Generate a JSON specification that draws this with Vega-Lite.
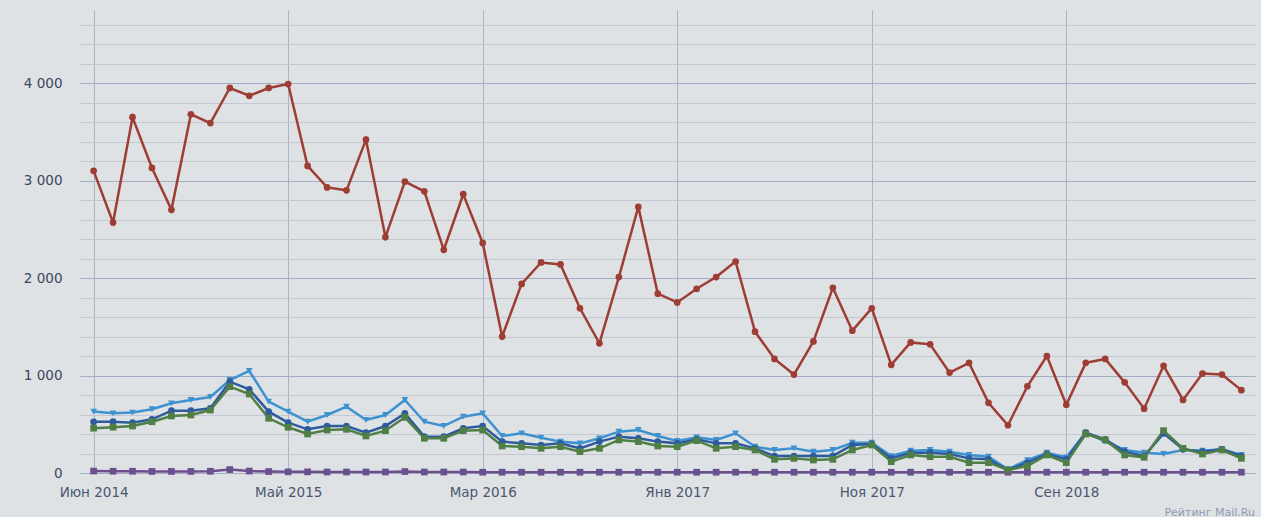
{
  "$schema": "https://vega.github.io/schema/vega-lite/v6.json",
  "width": 1175,
  "height": 463,
  "autosize": {"type": "none"},
  "padding": {"left": 80, "top": 10, "right": 6, "bottom": 44},
  "background": "#dfe2e4",
  "config": {"view": {"stroke": null}, "font": "DejaVu Sans"},
  "title": {"text": "Рейтинг Mail.Ru", "orient": "bottom", "anchor": "end", "fontSize": 11, "fontWeight": "normal", "color": "#8e9ab0", "offset": 8},
  "data": {"values": [
    {"m": "Июн 2014", "r": 3100, "lb": 630, "db": 525, "g": 460, "p": 20},
    {"m": "Июл 2014", "r": 2570, "lb": 612, "db": 526, "g": 470, "p": 18},
    {"m": "Авг 2014", "r": 3650, "lb": 620, "db": 516, "g": 482, "p": 18},
    {"m": "Сен 2014", "r": 3130, "lb": 654, "db": 551, "g": 526, "p": 16},
    {"m": "Окт 2014", "r": 2700, "lb": 715, "db": 639, "g": 585, "p": 16},
    {"m": "Ноя 2014", "r": 3680, "lb": 749, "db": 639, "g": 595, "p": 16},
    {"m": "Дек 2014", "r": 3590, "lb": 780, "db": 664, "g": 646, "p": 18},
    {"m": "Янв 2015", "r": 3950, "lb": 954, "db": 937, "g": 886, "p": 35},
    {"m": "Фев 2015", "r": 3870, "lb": 1047, "db": 859, "g": 810, "p": 20},
    {"m": "Мар 2015", "r": 3950, "lb": 732, "db": 629, "g": 561, "p": 15},
    {"m": "Май 2015", "r": 3990, "lb": 629, "db": 516, "g": 469, "p": 12},
    {"m": "Июн 2015", "r": 3150, "lb": 526, "db": 448, "g": 400, "p": 12},
    {"m": "Июл 2015", "r": 2930, "lb": 595, "db": 482, "g": 441, "p": 10},
    {"m": "Авг 2015", "r": 2900, "lb": 680, "db": 482, "g": 448, "p": 10},
    {"m": "Сен 2015", "r": 3420, "lb": 544, "db": 414, "g": 380, "p": 10},
    {"m": "Окт 2015", "r": 2420, "lb": 595, "db": 482, "g": 434, "p": 10},
    {"m": "Ноя 2015", "r": 2990, "lb": 749, "db": 612, "g": 571, "p": 15},
    {"m": "Дек 2015", "r": 2890, "lb": 526, "db": 373, "g": 356, "p": 10},
    {"m": "Янв 2016", "r": 2290, "lb": 482, "db": 373, "g": 356, "p": 10},
    {"m": "Фев 2016", "r": 2860, "lb": 578, "db": 459, "g": 434, "p": 10},
    {"m": "Мар 2016", "r": 2360, "lb": 612, "db": 482, "g": 441, "p": 8},
    {"m": "Апр 2016", "r": 1400, "lb": 380, "db": 322, "g": 277, "p": 8},
    {"m": "Май 2016", "r": 1940, "lb": 407, "db": 304, "g": 270, "p": 8},
    {"m": "Июн 2016", "r": 2160, "lb": 362, "db": 287, "g": 253, "p": 8},
    {"m": "Июл 2016", "r": 2140, "lb": 322, "db": 304, "g": 270, "p": 8},
    {"m": "Авг 2016", "r": 1690, "lb": 304, "db": 253, "g": 219, "p": 8},
    {"m": "Сен 2016", "r": 1330, "lb": 356, "db": 322, "g": 253, "p": 8},
    {"m": "Окт 2016", "r": 2010, "lb": 424, "db": 373, "g": 339, "p": 8},
    {"m": "Ноя 2016", "r": 2730, "lb": 441, "db": 356, "g": 322, "p": 8},
    {"m": "Дек 2016", "r": 1840, "lb": 380, "db": 322, "g": 277, "p": 8},
    {"m": "Янв 2017", "r": 1750, "lb": 328, "db": 304, "g": 270, "p": 8},
    {"m": "Фев 2017", "r": 1890, "lb": 366, "db": 345, "g": 332, "p": 8},
    {"m": "Мар 2017", "r": 2010, "lb": 339, "db": 304, "g": 253, "p": 8},
    {"m": "Апр 2017", "r": 2170, "lb": 407, "db": 304, "g": 270, "p": 8},
    {"m": "Май 2017", "r": 1450, "lb": 270, "db": 253, "g": 236, "p": 8},
    {"m": "Июн 2017", "r": 1170, "lb": 236, "db": 174, "g": 140, "p": 8},
    {"m": "Июл 2017", "r": 1010, "lb": 253, "db": 174, "g": 150, "p": 8},
    {"m": "Авг 2017", "r": 1350, "lb": 219, "db": 174, "g": 133, "p": 8},
    {"m": "Сен 2017", "r": 1900, "lb": 236, "db": 175, "g": 140, "p": 8},
    {"m": "Окт 2017", "r": 1460, "lb": 311, "db": 287, "g": 236, "p": 8},
    {"m": "Ноя 2017", "r": 1690, "lb": 311, "db": 297, "g": 287, "p": 8},
    {"m": "Дек 2017", "r": 1110, "lb": 174, "db": 150, "g": 116, "p": 8},
    {"m": "Янв 2018", "r": 1340, "lb": 229, "db": 208, "g": 185, "p": 8},
    {"m": "Фев 2018", "r": 1320, "lb": 236, "db": 208, "g": 167, "p": 8},
    {"m": "Мар 2018", "r": 1030, "lb": 219, "db": 195, "g": 167, "p": 8},
    {"m": "Апр 2018", "r": 1130, "lb": 185, "db": 150, "g": 106, "p": 8},
    {"m": "Май 2018", "r": 720, "lb": 167, "db": 140, "g": 106, "p": 8},
    {"m": "Июн 2018", "r": 490, "lb": 38, "db": 31, "g": 31, "p": 8},
    {"m": "Июл 2018", "r": 890, "lb": 133, "db": 106, "g": 72, "p": 8},
    {"m": "Авг 2018", "r": 1200, "lb": 208, "db": 195, "g": 185, "p": 8},
    {"m": "Сен 2018", "r": 700, "lb": 161, "db": 140, "g": 106, "p": 8},
    {"m": "Окт 2018", "r": 1130, "lb": 414, "db": 414, "g": 400, "p": 8},
    {"m": "Ноя 2018", "r": 1170, "lb": 322, "db": 345, "g": 339, "p": 8},
    {"m": "Дек 2018", "r": 930, "lb": 236, "db": 219, "g": 185, "p": 8},
    {"m": "Янв 2019", "r": 660, "lb": 208, "db": 174, "g": 161, "p": 8},
    {"m": "Фев 2019", "r": 1100, "lb": 195, "db": 407, "g": 434, "p": 8},
    {"m": "Мар 2019", "r": 750, "lb": 236, "db": 243, "g": 253, "p": 8},
    {"m": "Апр 2019", "r": 1020, "lb": 229, "db": 219, "g": 195, "p": 8},
    {"m": "Май 2019", "r": 1010, "lb": 243, "db": 243, "g": 236, "p": 8},
    {"m": "Июн 2019", "r": 850, "lb": 185, "db": 174, "g": 150, "p": 8}
  ]},
  "transform": [{"fold": ["r", "p", "lb", "db", "g"], "as": ["s", "v"]}],
  "encoding": {
    "x": {
      "field": "m", "type": "ordinal", "sort": null,
      "scale": {"type": "point", "padding": 0.7},
      "axis": {
        "values": ["Июн 2014", "Май 2015", "Мар 2016", "Янв 2017", "Ноя 2017", "Сен 2018"],
        "labelAngle": 0, "domain": false, "ticks": false, "grid": true,
        "gridColor": "#a9b3ca", "gridWidth": 1,
        "labelFontSize": 13.5, "labelColor": "#4b5670", "labelPadding": 12, "title": null
      }
    },
    "y": {
      "field": "v", "type": "quantitative",
      "scale": {"domain": [0, 4750], "nice": false, "zero": false},
      "axis": {
        "values": [0, 200, 400, 600, 800, 1000, 1200, 1400, 1600, 1800, 2000, 2200, 2400, 2600, 2800, 3000, 3200, 3400, 3600, 3800, 4000, 4200, 4400, 4600],
        "labelExpr": "datum.value % 1000 === 0 ? replace(format(datum.value, ','), ',', ' ') : ''",
        "domain": false, "ticks": false, "grid": true,
        "gridColor": {"condition": {"test": "datum.value % 1000 === 0", "value": "#a3adc3"}, "value": "#c3c8d2"},
        "labelFontSize": 13.5, "labelColor": "#3c4660", "labelPadding": 18, "title": null
      }
    },
    "color": {
      "field": "s", "type": "nominal",
      "scale": {"domain": ["r", "p", "lb", "db", "g"], "range": ["#9e3d33", "#6b4f8f", "#3d92cf", "#2d5b9e", "#4f7f45"]},
      "legend": null
    }
  },
  "layer": [
    {"mark": {"type": "line", "strokeWidth": 2.5}},
    {
      "mark": {"type": "point", "filled": true, "size": 45, "opacity": 1},
      "encoding": {
        "shape": {
          "field": "s", "type": "nominal",
          "scale": {"domain": ["r", "p", "lb", "db", "g"], "range": ["circle", "square", "triangle-down", "circle", "square"]},
          "legend": null
        }
      }
    }
  ]
}
